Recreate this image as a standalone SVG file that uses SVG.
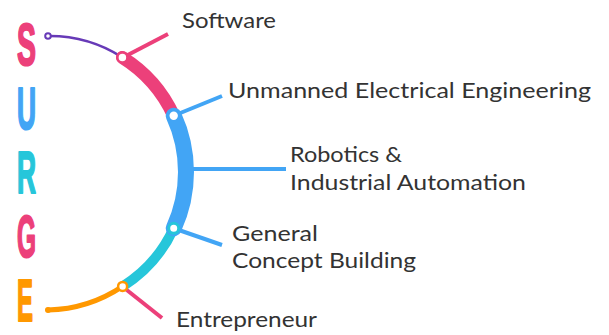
<svg xmlns="http://www.w3.org/2000/svg" width="609" height="335" viewBox="0 0 609 335">
<style>
.lbl{font-family:"Lato","Open Sans","Liberation Sans",sans-serif;font-size:22px;fill:#333333}
.big{font-family:"Liberation Sans","Arial",sans-serif;font-weight:bold;font-size:59px;stroke-width:2.2;stroke-linejoin:round}
.seg{fill:none;stroke-linecap:round}
.lead{fill:none;stroke-width:4;stroke-linecap:butt}
</style>
<rect width="609" height="335" fill="#ffffff"/>
<g id="letters">
<text class="big" x="17" y="65" textLength="19" lengthAdjust="spacingAndGlyphs" fill="#ec407a" stroke="#ec407a">S</text>
<text class="big" x="17" y="129" textLength="19" lengthAdjust="spacingAndGlyphs" fill="#42a5f5" stroke="#42a5f5">U</text>
<text class="big" x="17" y="193" textLength="19" lengthAdjust="spacingAndGlyphs" fill="#26c6da" stroke="#26c6da">R</text>
<text class="big" x="17" y="257" textLength="19" lengthAdjust="spacingAndGlyphs" fill="#ec407a" stroke="#ec407a">G</text>
<text class="big" x="17" y="321" textLength="16" lengthAdjust="spacingAndGlyphs" fill="#ff9800" stroke="#ff9800">E</text>
</g>
<g id="connectors">
<line class="lead" x1="122" y1="58" x2="168" y2="34" stroke="#ec407a"/>
<line class="lead" x1="173" y1="116" x2="222" y2="96" stroke="#42a5f5"/>
<line class="lead" x1="185" y1="169" x2="286" y2="169" stroke="#42a5f5"/>
<line class="lead" x1="173" y1="228" x2="222" y2="245" stroke="#42a5f5"/>
<line class="lead" x1="123" y1="287" x2="162" y2="318" stroke="#ec407a"/>
</g>
<g id="arc">
<path class="seg" d="M48,36 A135,135 0 0 1 122.4,57.4" stroke="#673ab7" stroke-width="2.5"/>
<path class="seg" d="M48,310 A140,140 0 0 0 122.6,286.4" stroke="#ff9800" stroke-width="5"/>
<path class="seg" d="M173.7,228.3 A135,135 0 0 1 122.6,286.4" stroke="#26c6da" stroke-width="10"/>
<path class="seg" d="M122.4,57.4 A135,135 0 0 1 173.7,115.7" stroke="#ec407a" stroke-width="13" stroke-linecap="butt"/>
<path class="seg" d="M173.7,115.7 A135,135 0 0 1 173.7,228.3" stroke="#42a5f5" stroke-width="16"/>
</g>
<g id="node-start"><circle cx="48" cy="36" r="2.8" fill="#ffffff" stroke="#673ab7" stroke-width="2"/></g>
<g id="node-software"><circle cx="122.4" cy="57.4" r="5" fill="#ffffff" stroke="#ec407a" stroke-width="2.5"/>
<text class="lbl" x="182" y="28" textLength="94" lengthAdjust="spacingAndGlyphs">Software</text></g>
<g id="node-unmanned"><circle cx="173.7" cy="115.7" r="4.2" fill="#ffffff"/>
<text class="lbl" x="228" y="98" textLength="363" lengthAdjust="spacingAndGlyphs">Unmanned Electrical Engineering</text></g>
<g id="node-robotics">
<text class="lbl" x="290" y="162" textLength="112" lengthAdjust="spacingAndGlyphs">Robotics &amp;</text>
<text class="lbl" x="290" y="190" textLength="236" lengthAdjust="spacingAndGlyphs">Industrial Automation</text></g>
<g id="node-general"><circle cx="173.7" cy="228.3" r="5" fill="#ffffff" stroke="#26c6da" stroke-width="3"/>
<text class="lbl" x="232" y="241" textLength="86" lengthAdjust="spacingAndGlyphs">General</text>
<text class="lbl" x="232" y="268" textLength="184" lengthAdjust="spacingAndGlyphs">Concept Building</text></g>
<g id="node-entrepreneur"><circle cx="122.6" cy="286.4" r="4.5" fill="#ffffff" stroke="#ff9800" stroke-width="2.5"/>
<text class="lbl" x="176" y="327" textLength="141" lengthAdjust="spacingAndGlyphs">Entrepreneur</text></g>
<g id="node-end"><circle cx="48" cy="310" r="3" fill="#ff9800"/></g>
</svg>
